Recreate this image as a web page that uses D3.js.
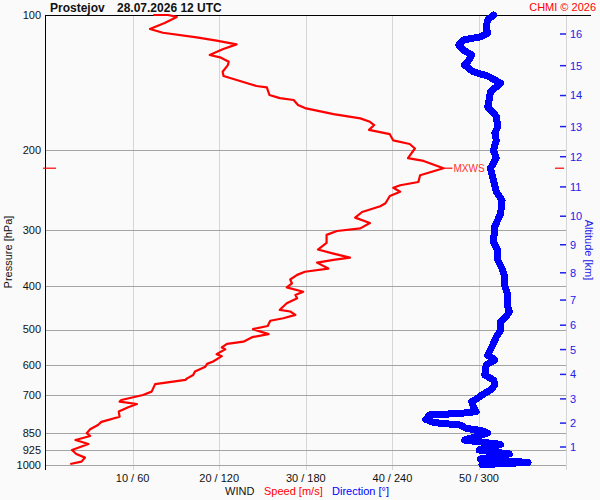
<!DOCTYPE html>
<html>
  <head>
    <meta charset="utf-8">
    <title>Wind profile</title>
    <script src="https://cdn.jsdelivr.net/npm/d3@7"></script>
    <style>
      body { margin: 0; background: #fafafa; }
      text { font-family: "Liberation Sans", Arial, sans-serif; }
    </style>
  </head>
  <body>
    <svg width="600" height="500" id="mainsvg"></svg>
    <script>
      // wind speed profile: pressure [hPa] / speed [m/s]
      const speedP = [995,983,963,945,926,898,880,862,850,833,
        815,802,781,761,744,732,723,717,699,687,
        661,647,642,631,620,605,596,589,573,567,
        553,548,538,532,520,512,499,491,478,472,
        464,456,452,437,426,419,412,403,395,387,
        378,372,366,355,350,346,339,332,321,308,
        302,298,290,282,274,266,262,252.5,247,242,
        239,235,227,219,211,208,198,193.5,190,184,
        180,175.6,172.7,169.7,166,161,158.5,154.5,153,150.6,
        144.8,143.8,140.2,136.6,133.7,129.2,127,124.2,122.7,119.2,
        116.2,114,112.1,109.5,107.4,104.2,101,100,99,97];
      const speedV = [2.8,4.1,4.5,3.5,3.0,4.9,3.4,5.1,4.7,5.1,
        6.0,6.4,8.5,8.4,9.5,10.5,8.5,8.7,11.2,12.2,
        12.6,16.1,16.3,17.0,17.2,18.4,18.6,19.3,20.3,19.7,
        20.7,20.3,20.9,22.8,23.8,25.7,23.9,25.6,25.9,27.4,
        28.8,28.2,27.0,27.8,29.0,28.8,29.7,27.8,28.4,28.2,
        29.0,29.9,32.6,31.3,33.2,35.1,33.2,31.4,32.4,32.4,
        33.6,36.3,37.4,35.7,36.5,38.6,39.2,39.7,40.9,40.1,
        40.9,43.0,43.2,45.9,43.6,41.8,42.6,42.0,40.1,39.7,
        37.3,37.9,37.4,36.3,33.2,29.9,29.1,28.6,27.0,25.8,
        25.5,24.3,22.4,20.5,20.4,21.0,21.1,20.1,18.9,20.4,
        22.0,19.7,17.4,13.5,12.0,13.7,15.1,14.1,13.2,12.4];

      // wind direction profile: pressure [hPa] / direction [deg]
      const dirP = [998,987,970,945,926,900,880,849,839,829,
        815,805,792,774,768,
        761,742,723,711,699,681,664,647,631,599,
        584,570,546,519,501,480,467,456,445,419,
        402,382,366,350,333,319,295,276,258,247,
        233,219,208,200,190,183,177,168,160,154.5,
        148,141.8,136.6,133.7,129.2,125.9,122.7,119.6,116.6,113.7,
        111.8,109.8,106.2,102.6,99];
      const dirV = [302,334,301,321,300,315,290,306,302,291,
        287,269,263,266,287,
        298,296,295,299,302,308,311,310,304,305,
        311,306,309,312,315,315,319,321,320,320,
        318,318,316,313,313,310,311,315,316,312,
        310,308,312,310,312,311,313,312,306,307,
        308,315,306,296,290,293,295,289,286,289,
        301,306,305,306,310];

      // axes
      const pressureTicks = [100, 200, 300, 400, 500, 600, 700, 850, 925, 1000];
      const speedTicks = [10, 20, 30, 40, 50];
      const dirTicks = [60, 120, 180, 240, 300];
      const altKm = [1, 2, 3, 4, 5, 6, 7, 8, 9, 10, 11, 12, 13, 14, 15, 16];
      const altP = [912, 807, 713, 629, 554, 489, 430, 374, 324, 280, 241, 206.5, 177, 151, 129.6, 110.2];

      const svg = d3.select("#mainsvg");
      const plotL = 45, plotR = 566, plotT = 15, plotB = 465, gridB = 470;

      const y = d3.scaleLog().domain([100, 1000]).range([plotT, plotB]).clamp(true);
      const xs = d3.scaleLinear().domain([0, 60]).range([46, 565.6]);
      const xd = d3.scaleLinear().domain([0, 360]).range([46, 565.6]);
      const px = (v) => Math.round(v) + 0.5;

      // vertical grid (speed)
      svg.append("g")
        .selectAll("line")
        .data(speedTicks.concat([60]))
        .join("line")
        .attr("x1", (d) => px(xs(d))).attr("x2", (d) => px(xs(d)))
        .attr("y1", plotT).attr("y2", gridB)
        .attr("stroke", "#d6d6d6")
        .attr("shape-rendering", "crispEdges");

      // horizontal grid (pressure)
      svg.append("g")
        .selectAll("line")
        .data(pressureTicks.slice(1))
        .join("line")
        .attr("x1", plotL).attr("x2", plotR)
        .attr("y1", (d) => px(y(d))).attr("y2", (d) => px(y(d)))
        .attr("stroke", "#a4a4a4")
        .attr("shape-rendering", "crispEdges");

      // frame: left axis and top line
      svg.append("line")
        .attr("x1", plotL + 0.5).attr("x2", plotL + 0.5)
        .attr("y1", plotT).attr("y2", gridB)
        .attr("stroke", "#000").attr("shape-rendering", "crispEdges");
      svg.append("line")
        .attr("x1", plotL).attr("x2", 591)
        .attr("y1", px(y(100))).attr("y2", px(y(100)))
        .attr("stroke", "#000").attr("shape-rendering", "crispEdges");

      // pressure labels
      svg.append("g")
        .selectAll("text")
        .data(pressureTicks)
        .join("text")
        .attr("x", 41)
        .attr("y", (d) => y(d))
        .attr("dy", "0.36em")
        .attr("text-anchor", "end")
        .attr("font-size", 11)
        .attr("fill", "#111")
        .text((d) => d);

      svg.append("text")
        .attr("transform", "translate(12,252) rotate(-90)")
        .attr("text-anchor", "middle")
        .attr("font-size", 11)
        .attr("fill", "#111")
        .text("Pressure [hPa]");

      // speed / direction labels
      svg.append("g")
        .selectAll("text")
        .data(speedTicks)
        .join("text")
        .attr("x", (d) => xs(d))
        .attr("y", 482)
        .attr("text-anchor", "middle")
        .attr("font-size", 11)
        .attr("fill", "#111")
        .text((d, i) => `${d} / ${dirTicks[i]}`);

      const legend = svg.append("text").attr("y", 495).attr("font-size", 11);
      legend.append("tspan").attr("x", 225).attr("fill", "#111").text("WIND");
      legend.append("tspan").attr("x", 264).attr("fill", "#ff0000").text("Speed [m/s]");
      legend.append("tspan").attr("x", 332).attr("fill", "#0000ff").text("Direction [°]");

      // altitude axis
      const alt = svg.append("g");
      alt.selectAll("line")
        .data(altP)
        .join("line")
        .attr("x1", 560).attr("x2", 566)
        .attr("y1", (d) => y(d)).attr("y2", (d) => y(d))
        .attr("stroke", "#2020e8").attr("stroke-width", 1.5);
      alt.selectAll("text")
        .data(altKm)
        .join("text")
        .attr("x", 570)
        .attr("y", (d, i) => y(altP[i]))
        .attr("dy", "0.36em")
        .attr("font-size", 11)
        .attr("fill", "#2020e8")
        .text((d) => d);
      svg.append("text")
        .attr("transform", "translate(585,250) rotate(90)")
        .attr("text-anchor", "middle")
        .attr("font-size", 11)
        .attr("fill", "#2020e8")
        .text("Altitude [km]");

      // title
      svg.append("text").attr("x", 50).attr("y", 12)
        .attr("font-size", 12).attr("font-weight", "bold").attr("fill", "#111")
        .text("Prostejov");
      svg.append("text").attr("x", 117).attr("y", 12)
        .attr("font-size", 12).attr("font-weight", "bold").attr("fill", "#111")
        .text("28.07.2026 12 UTC");
      svg.append("text").attr("x", 596).attr("y", 11)
        .attr("text-anchor", "end")
        .attr("font-size", 11).attr("fill", "#ff0000")
        .text("CHMI © 2026");

      // direction line
      const dirData = dirP.map((p, i) => [p, dirV[i]]);
      svg.append("path")
        .datum(dirData)
        .attr("fill", "none")
        .attr("stroke", "#0000ff")
        .attr("stroke-width", 7)
        .attr("stroke-linejoin", "round")
        .attr("stroke-linecap", "round")
        .attr("shape-rendering", "crispEdges")
        .attr("d", d3.line().x((d) => xd(d[1])).y((d) => y(d[0])));

      // speed line
      const speedData = speedP.map((p, i) => [p, speedV[i]]);
      svg.append("path")
        .datum(speedData)
        .attr("fill", "none")
        .attr("stroke", "#ff0000")
        .attr("stroke-width", 2.2)
        .attr("stroke-linejoin", "round")
        .attr("d", d3.line().x((d) => xs(d[1])).y((d) => y(d[0])));

      // max wind marker (MXWS)
      const iMax = d3.maxIndex(speedV);
      const yMax = y(speedP[iMax]);
      const xMax = xs(speedV[iMax]);
      svg.append("line")
        .attr("x1", xMax).attr("x2", xMax + 9)
        .attr("y1", yMax).attr("y2", yMax)
        .attr("stroke", "#ff0000").attr("stroke-width", 1.2);
      svg.append("text")
        .attr("x", xMax + 10).attr("y", yMax)
        .attr("dy", "0.36em")
        .attr("font-size", 10).attr("fill", "#ff3030")
        .text("MXWS");
      svg.append("g")
        .selectAll("line")
        .data([[43, 56], [555, 564]])
        .join("line")
        .attr("x1", (d) => d[0]).attr("x2", (d) => d[1])
        .attr("y1", yMax).attr("y2", yMax)
        .attr("stroke", "#ff0000").attr("stroke-width", 1.2);
    </script>
  </body>
</html>
